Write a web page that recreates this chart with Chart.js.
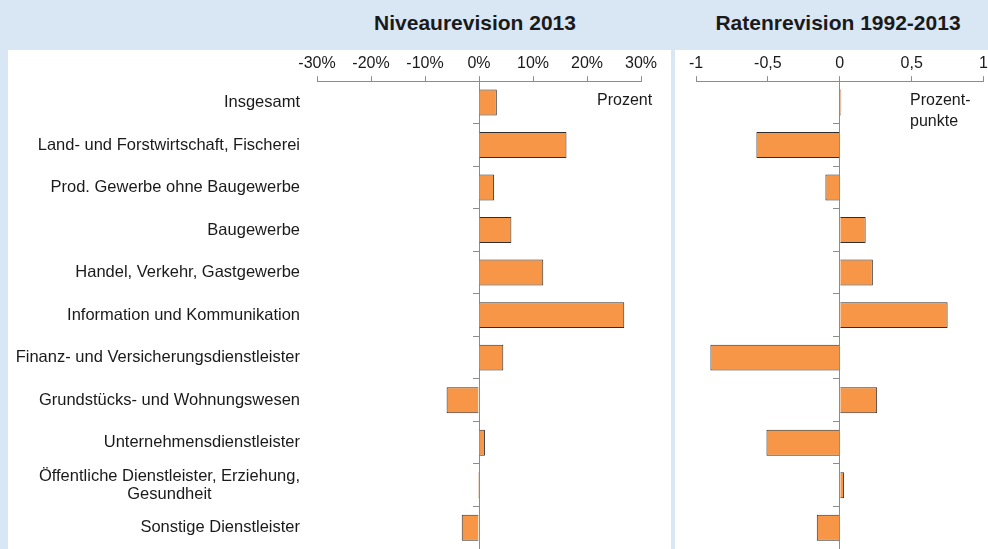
<!DOCTYPE html>
<html>
<head>
<meta charset="utf-8">
<script src="https://cdn.jsdelivr.net/npm/chart.js@4"></script>
<style>
  body { margin: 0; width: 988px; height: 549px; background: #d9e7f5; position: relative; overflow: hidden;
         font-family: "Liberation Sans", Arial, sans-serif; color: #1a1a1a; }
  .panel { position: absolute; top: 50px; height: 499px; background: #fff; }
  .title { position: absolute; top: 11px; font-weight: bold; font-size: 21px; transform: translateX(-50%); white-space: nowrap; }
  .unit { position: absolute; font-size: 16px; line-height: 21px; }
</style>
</head>
<body>
<div class="title" style="left:475px">Niveaurevision 2013</div>
<div class="title" style="left:838px">Ratenrevision 1992-2013</div>
<div class="panel" style="left:8px;width:663px"><canvas id="levelChart"></canvas></div>
<div class="panel" style="left:675px;width:316px"><canvas id="rateChart"></canvas></div>
<div class="unit" style="left:597px;top:89px">Prozent</div>
<div class="unit" style="left:910px;top:89px">Prozent-<br>punkte</div>
<script>
//  categories and values
let categories = [
    'Insgesamt',
    'Land- und Forstwirtschaft, Fischerei',
    'Prod. Gewerbe ohne Baugewerbe',
    'Baugewerbe',
    'Handel, Verkehr, Gastgewerbe',
    'Information und Kommunikation',
    'Finanz- und Versicherungsdienstleister',
    'Grundstücks- und Wohnungswesen',
    'Unternehmensdienstleister',
    ['Öffentliche Dienstleister, Erziehung,', 'Gesundheit'],
    'Sonstige Dienstleister'
]
let levelRevision = [3.3, 16.2, 2.8, 6.0, 11.9, 26.9, 4.5, -6.0, 1.1, -0.2, -3.2]
let rateRevision = [0.01, -0.58, -0.10, 0.18, 0.23, 0.75, -0.90, 0.26, -0.51, 0.03, -0.16]
let levelTicks = [-30, -20, -10, 0, 10, 20, 30]
let rateTicks = [-1, -0.5, 0, 0.5, 1]

Chart.defaults.font.family = '"Liberation Sans", Arial, sans-serif';
Chart.defaults.color = '#1a1a1a';
Chart.defaults.animation = false;

//  draws the category names left of the first chart
const sideLabels = {
    id: 'sideLabels',
    afterDraw(chart) {
        const ctx = chart.ctx;
        const yScale = chart.scales.y;
        const right = chart.chartArea.left - 17;
        ctx.save();
        ctx.font = '16.5px "Liberation Sans", Arial, sans-serif';
        ctx.fillStyle = '#1a1a1a';
        ctx.textBaseline = 'middle';
        ctx.textAlign = 'center';
        categories.forEach((lab, i) => {
            const lines = [].concat(lab);
            const w = Math.max(...lines.map(l => ctx.measureText(l).width));
            const cy = yScale.getPixelForValue(i);
            lines.forEach((l, j) => {
                ctx.fillText(l, right - w / 2, cy + (j - (lines.length - 1) / 2) * 18);
            });
        });
        ctx.restore();
    }
};

function makeChart(id, values, tickList, fmt, pad, plugins) {
    return new Chart(document.getElementById(id), {
        type: 'bar',
        data: {
            labels: categories,
            datasets: [{
                data: values,
                backgroundColor: '#f79646',
                borderColor: '#2e2e2e',
                borderWidth: 1,
                barPercentage: 0.61,
                categoryPercentage: 1
            }]
        },
        options: {
            indexAxis: 'y',
            responsive: true,
            maintainAspectRatio: false,
            layout: { padding: pad },
            plugins: { legend: { display: false }, tooltip: { enabled: false } },
            scales: {
                x: {
                    position: 'top',
                    min: tickList[0],
                    max: tickList[tickList.length - 1],
                    afterBuildTicks: s => { s.ticks = tickList.map(v => ({ value: v })); },
                    ticks: { callback: fmt, font: { size: 16 }, padding: 3, maxRotation: 0 },
                    grid: { drawOnChartArea: false, tickLength: 5, color: '#8c8c8c' },
                    border: { color: '#8c8c8c' }
                },
                y: {
                    display: false,
                    offset: true
                },
                zero: {
                    type: 'category',
                    axis: 'y',
                    position: { x: 0 },
                    offset: true,
                    ticks: { display: false },
                    grid: { offset: true, drawOnChartArea: false, tickLength: 6, color: '#8c8c8c' },
                    border: { color: '#8c8c8c' }
                }
            }
        },
        plugins: plugins
    });
}

makeChart('levelChart', levelRevision, levelTicks, v => v + '%',
    { left: 309, right: 30, top: 1, bottom: 0 }, [sideLabels]);
makeChart('rateChart', rateRevision, rateTicks, v => String(v).replace('.', ','),
    { left: 21, right: 0, top: 1, bottom: 0 }, []);
</script>
</body>
</html>
